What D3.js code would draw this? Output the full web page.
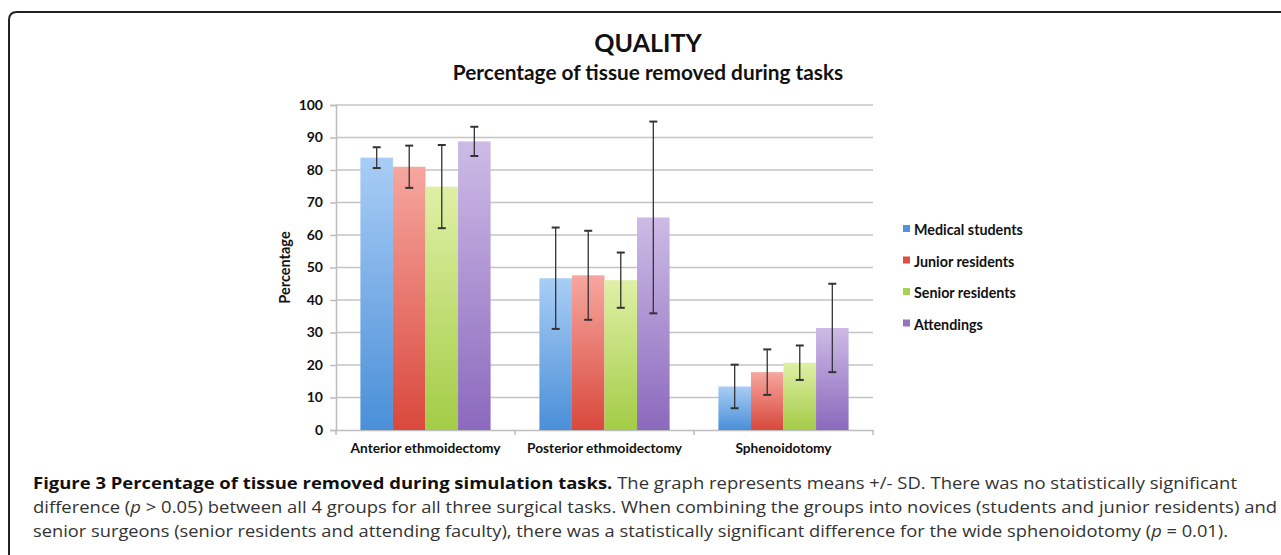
<!DOCTYPE html>
<html lang="en">
<head>
    <meta charset="UTF-8">
    <title>QUALITY - Percentage of tissue removed during tasks</title>
    <style>
        body {
            margin: 0;
            padding: 0;
            background-color: #fff;
            overflow: hidden;
        }

        svg {
            display: block;
        }

        .chart-text {
            font-family: Lato, 'Open Sans', sans-serif;
            font-weight: bold;
            fill: #111;
        }

        .grid line {
            stroke: #c4c4c4;
            stroke-width: 1.5px;
        }

        .caption {
            font-family: 'Open Sans', 'Noto Sans', sans-serif;
            font-size: 15.5px;
            fill: #333;
        }
    </style>
</head>
<body>
    <div id="chart"></div>

    <script src="https://d3js.org/d3.v7.min.js"></script>
    <script>
        const categories = ["Anterior ethmoidectomy", "Posterior ethmoidectomy", "Sphenoidotomy"];
        const groups = ["Medical students", "Junior residents", "Senior residents", "Attendings"];
        // means per group, one value per category
        const medicalStudents = [83.8, 46.7, 13.4];
        const juniorResidents = [81.0, 47.6, 17.8];
        const seniorResidents = [74.9, 46.1, 20.7];
        const attendings = [88.8, 65.4, 31.4];
        // standard deviations (error bars)
        const medicalStudentsSD = [3.2, 15.6, 6.7];
        const juniorResidentsSD = [6.5, 13.7, 7.0];
        const seniorResidentsSD = [12.8, 8.5, 5.3];
        const attendingsSD = [4.5, 29.5, 13.6];
        const yTicks = [0, 10, 20, 30, 40, 50, 60, 70, 80, 90, 100];

        const means = [medicalStudents, juniorResidents, seniorResidents, attendings];
        const sds = [medicalStudentsSD, juniorResidentsSD, seniorResidentsSD, attendingsSD];

        const width = 1281;
        const height = 555;

        const svg = d3.select("#chart").append("svg")
            .attr("width", width)
            .attr("height", height);

        // Colours: [top, bottom] of each bar's gradient
        const palette = [
            ["#a9cdf5", "#4a8fd8"],
            ["#f6a79f", "#d9483d"],
            ["#dff0a6", "#a3cc46"],
            ["#cdbbe6", "#8b69bd"]
        ];
        const swatch = ["#4f93dc", "#de5046", "#a9d04e", "#9174c2"];

        const defs = svg.append("defs");
        palette.forEach((p, i) => {
            const g = defs.append("linearGradient")
                .attr("id", "grad" + i)
                .attr("x1", 0).attr("y1", 0)
                .attr("x2", 0).attr("y2", 1);
            g.append("stop").attr("offset", "0%").attr("stop-color", p[0]);
            g.append("stop").attr("offset", "100%").attr("stop-color", p[1]);
        });

        // Frame around the figure
        svg.append("path")
            .attr("d", "M9,560 L9,20 Q9,12 17,12 L1290,12")
            .attr("fill", "none")
            .attr("stroke", "#222")
            .attr("stroke-width", 2);

        // Titles
        svg.append("text")
            .attr("class", "chart-text")
            .attr("x", 648)
            .attr("y", 52)
            .attr("text-anchor", "middle")
            .style("font-size", "25px")
            .text("QUALITY");

        svg.append("text")
            .attr("class", "chart-text")
            .attr("x", 648)
            .attr("y", 80)
            .attr("text-anchor", "middle")
            .style("font-size", "20.8px")
            .text("Percentage of tissue removed during tasks");

        // Scales
        const plot = { left: 336, right: 873, top: 105, bottom: 430 };

        const y = d3.scaleLinear()
            .domain([0, 100])
            .range([plot.bottom, plot.top]);

        const x0 = d3.scaleBand()
            .domain(categories)
            .range([plot.left, plot.right])
            .padding(0);

        const x1 = d3.scaleBand()
            .domain(groups)
            .range([0, x0.bandwidth()])
            .paddingInner(0)
            .paddingOuter(0.75);

        // Gridlines
        svg.append("g")
            .attr("class", "grid")
            .selectAll("line")
            .data(yTicks.filter(d => d > 0))
            .enter().append("line")
            .attr("x1", plot.left)
            .attr("x2", plot.right)
            .attr("y1", d => y(d))
            .attr("y2", d => y(d));

        // Y axis
        const yAxis = svg.append("g")
            .attr("transform", `translate(${plot.left},0)`)
            .call(d3.axisLeft(y).tickValues(yTicks).tickSize(6).tickPadding(7));
        yAxis.select(".domain").attr("stroke", "#bdbdbd").attr("stroke-width", 1.5);
        yAxis.selectAll(".tick line").attr("stroke", "#bdbdbd").attr("stroke-width", 1.5);
        yAxis.selectAll(".tick text")
            .attr("class", "chart-text")
            .style("font-size", "14px");

        // X axis
        const xAxis = svg.append("g")
            .attr("transform", `translate(0,${plot.bottom})`)
            .call(d3.axisBottom(x0).tickSize(0).tickPadding(13));
        xAxis.select(".domain").attr("stroke", "#bdbdbd").attr("stroke-width", 1.5);
        xAxis.selectAll(".tick text")
            .attr("class", "chart-text")
            .style("font-size", "13.7px");

        // category boundary ticks
        svg.append("g")
            .selectAll("line")
            .data(d3.range(categories.length + 1))
            .enter().append("line")
            .attr("x1", i => plot.left + i * x0.bandwidth())
            .attr("x2", i => plot.left + i * x0.bandwidth())
            .attr("y1", plot.bottom)
            .attr("y2", plot.bottom + 5)
            .attr("stroke", "#bdbdbd")
            .attr("stroke-width", 1.5);

        // Y axis title
        svg.append("text")
            .attr("class", "chart-text")
            .attr("transform", `translate(290,${(plot.top + plot.bottom) / 2}) rotate(-90)`)
            .attr("text-anchor", "middle")
            .style("font-size", "14.5px")
            .text("Percentage");

        // Bars
        const rows = [];
        categories.forEach((c, ci) => {
            groups.forEach((g, gi) => {
                rows.push({ cat: c, group: g, gi: gi, mean: means[gi][ci], sd: sds[gi][ci] });
            });
        });

        const bars = svg.append("g").selectAll("g")
            .data(rows)
            .enter().append("g")
            .attr("transform", d => `translate(${x0(d.cat) + x1(d.group)},0)`);

        bars.append("rect")
            .attr("x", 0)
            .attr("y", d => y(d.mean))
            .attr("width", x1.bandwidth())
            .attr("height", d => y(0) - y(d.mean))
            .attr("fill", d => `url(#grad${d.gi})`);

        // Error bars
        const cx = x1.bandwidth() / 2;
        const cap = 4;
        bars.append("line")
            .attr("x1", cx).attr("x2", cx)
            .attr("y1", d => y(d.mean + d.sd))
            .attr("y2", d => y(d.mean - d.sd))
            .attr("stroke", "#333")
            .attr("stroke-width", 1.3);
        bars.append("line")
            .attr("x1", cx - cap).attr("x2", cx + cap)
            .attr("y1", d => y(d.mean + d.sd))
            .attr("y2", d => y(d.mean + d.sd))
            .attr("stroke", "#333")
            .attr("stroke-width", 2);
        bars.append("line")
            .attr("x1", cx - cap).attr("x2", cx + cap)
            .attr("y1", d => y(d.mean - d.sd))
            .attr("y2", d => y(d.mean - d.sd))
            .attr("stroke", "#333")
            .attr("stroke-width", 2);

        // Legend
        const legend = svg.append("g")
            .attr("transform", "translate(903,230)")
            .selectAll("g")
            .data(groups)
            .enter().append("g")
            .attr("transform", (d, i) => `translate(0,${i * 31.5})`);

        legend.append("rect")
            .attr("x", 0)
            .attr("y", -5)
            .attr("width", 7)
            .attr("height", 7)
            .attr("fill", (d, i) => swatch[i]);

        legend.append("text")
            .attr("class", "chart-text")
            .attr("x", 11)
            .attr("y", 0)
            .attr("dy", "0.35em")
            .style("font-size", "14.3px")
            .text(d => d);

        // Caption
        const caption = svg.append("g").attr("class", "caption");

        const line1 = caption.append("text")
            .attr("x", 33).attr("y", 489)
            .attr("textLength", 1204)
            .attr("lengthAdjust", "spacingAndGlyphs");
        line1.append("tspan")
            .style("font-weight", "bold")
            .style("fill", "#111")
            .text("Figure 3 Percentage of tissue removed during simulation tasks.");
        line1.append("tspan")
            .text(" The graph represents means +/- SD. There was no statistically significant");

        const line2 = caption.append("text")
            .attr("x", 33).attr("y", 513)
            .attr("textLength", 1244)
            .attr("lengthAdjust", "spacingAndGlyphs");
        line2.append("tspan").text("difference (");
        line2.append("tspan").style("font-style", "italic").text("p");
        line2.append("tspan").text(" > 0.05) between all 4 groups for all three surgical tasks. When combining the groups into novices (students and junior residents) and");

        const line3 = caption.append("text")
            .attr("x", 33).attr("y", 537)
            .attr("textLength", 1195)
            .attr("lengthAdjust", "spacingAndGlyphs");
        line3.append("tspan").text("senior surgeons (senior residents and attending faculty), there was a statistically significant difference for the wide sphenoidotomy (");
        line3.append("tspan").style("font-style", "italic").text("p");
        line3.append("tspan").text(" = 0.01).");
    </script>
</body>
</html>
